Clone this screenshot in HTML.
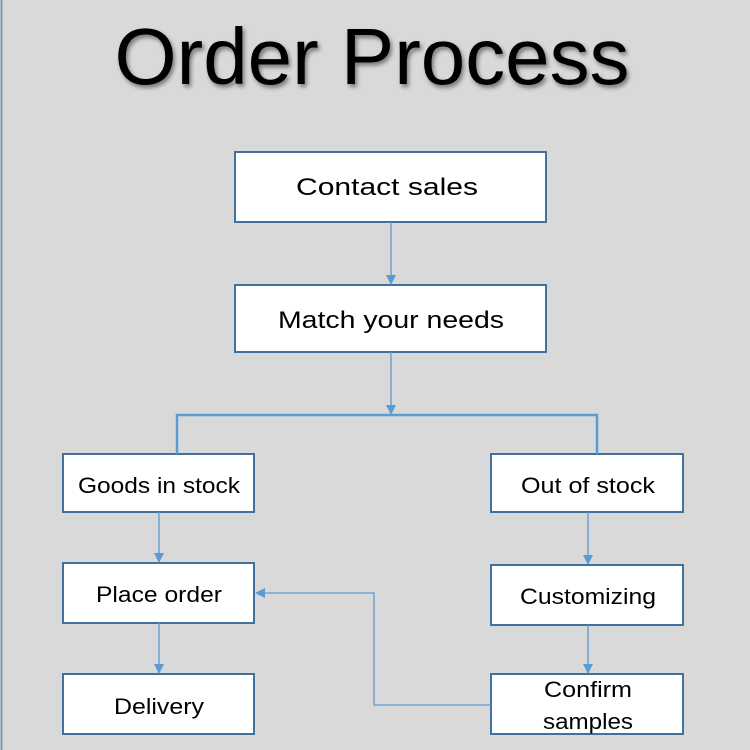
<!DOCTYPE html>
<html><head><meta charset="utf-8"><style>
html,body{margin:0;padding:0;background:#d9d9d9;}
svg{display:block;}
text{font-family:"Liberation Sans",sans-serif;fill:#000;}
</style></head><body>
<svg width="750" height="750" viewBox="0 0 750 750" xmlns="http://www.w3.org/2000/svg">
<defs>
<marker id="a" markerWidth="10" markerHeight="10" refX="9" refY="5" orient="auto" markerUnits="userSpaceOnUse">
<path d="M0,0 L10,5 L0,10 z" fill="#5b9bd5"/></marker>
<filter id="sh"><feDropShadow dx="2" dy="3" stdDeviation="2" flood-color="#000" flood-opacity="0.45"/></filter>
</defs>
<rect x="0" y="0" width="750" height="750" fill="#d9d9d9"/>
<line x1="1.5" y1="0" x2="1.5" y2="750" stroke="#7f97b2" stroke-width="2"/>
<text x="372" y="84" font-size="80" text-anchor="middle" textLength="515" lengthAdjust="spacingAndGlyphs" filter="url(#sh)">Order Process</text>
<g fill="#fff" stroke="#41719c" stroke-width="2">
<rect x="235" y="152" width="311" height="70"/>
<rect x="235" y="285" width="311" height="67"/>
<rect x="63" y="454" width="191" height="58"/>
<rect x="491" y="454" width="192" height="58"/>
<rect x="63" y="563" width="191" height="60"/>
<rect x="491" y="565" width="192" height="60"/>
<rect x="63" y="674" width="191" height="60"/>
<rect x="491" y="674" width="192" height="60"/>
</g>
<g stroke="#5b9bd5" stroke-width="1.3" fill="none">
<line x1="391" y1="222" x2="391" y2="284" marker-end="url(#a)"/>
<line x1="391" y1="352" x2="391" y2="414" marker-end="url(#a)"/>
<line x1="159" y1="512" x2="159" y2="562" marker-end="url(#a)"/>
<line x1="159" y1="623" x2="159" y2="673" marker-end="url(#a)"/>
<line x1="588" y1="512" x2="588" y2="564" marker-end="url(#a)"/>
<line x1="588" y1="625" x2="588" y2="673" marker-end="url(#a)"/>
<polyline points="491,705 374,705 374,593 256,593" marker-end="url(#a)"/>
</g>
<polyline points="177,454 177,415 597,415 597,454" stroke="#5b9bd5" stroke-width="2.5" fill="none"/>
<g font-size="24" text-anchor="middle">
<text x="387" y="195" textLength="182" lengthAdjust="spacingAndGlyphs">Contact sales</text>
<text x="391" y="328" textLength="226" lengthAdjust="spacingAndGlyphs">Match your needs</text>
<text x="159" y="493" font-size="22" textLength="162" lengthAdjust="spacingAndGlyphs">Goods in stock</text>
<text x="588" y="493" font-size="22" textLength="134" lengthAdjust="spacingAndGlyphs">Out of stock</text>
<text x="159" y="602" font-size="22" textLength="126" lengthAdjust="spacingAndGlyphs">Place order</text>
<text x="588" y="604" font-size="22" textLength="136" lengthAdjust="spacingAndGlyphs">Customizing</text>
<text x="159" y="714" font-size="22" textLength="90" lengthAdjust="spacingAndGlyphs">Delivery</text>
<text x="588" y="697" font-size="22" textLength="88" lengthAdjust="spacingAndGlyphs">Confirm</text>
<text x="588" y="729" font-size="22" textLength="90" lengthAdjust="spacingAndGlyphs">samples</text>
</g>
</svg>
</body></html>
